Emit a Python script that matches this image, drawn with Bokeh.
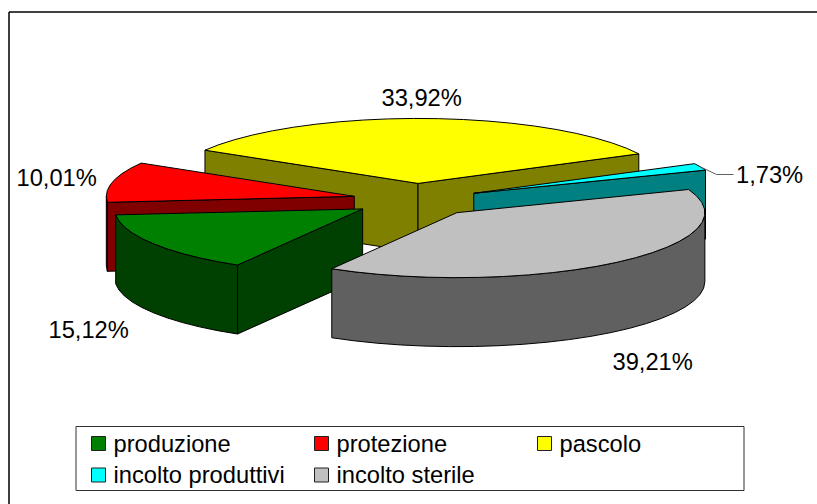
import numpy as np
from bokeh.plotting import figure
from bokeh.embed import file_html
from bokeh.resources import INLINE
from bokeh.core.properties import value

# --- data ---
categories = ["produzione", "protezione", "pascolo", "incolto produttivi", "incolto sterile"]
shares = [15.12, 10.01, 33.92, 1.73, 39.21]
labels = ["15,12%", "10,01%", "33,92%", "1,73%", "39,21%"]

# --- style ---
top_colors = ["#008000", "#ff0000", "#ffff00", "#00ffff", "#c0c0c0"]
side_colors = ["#004000", "#800000", "#808000", "#008080", "#606060"]
first_angle = 210.3
cx, cy = 415.5, 199.5
rx, ry = 248.0, 65.0
depth = 69.0
explode = 0.255
FONT = value("Liberation Sans")
FS = "23.7px"

W, H = 817, 504
p = figure(width=W, height=H, x_range=(0, W), y_range=(H, 0),
           output_backend="svg", toolbar_location=None, min_border=0,
           outline_line_color=None)
p.axis.visible = False
p.grid.visible = False
p.background_fill_color = "white"
p.border_fill_color = "white"

# chart frame (only its top and left edges fall inside the picture)
p.line([8.5, 8.5], [11.5, H], line_color="black", line_width=1.5)
p.line([8.5, W], [11.5, 11.5], line_color="black", line_width=1.5)


def arc(tip, t0, t1, dy=0.0):
    ts = np.radians(np.linspace(t0, t1, max(2, int(abs(t1 - t0) / 6) + 2)))
    return tip[0] + rx * np.sin(ts), tip[1] - ry * np.cos(ts) + dy


frac = np.array(shares) / sum(shares)
ends = first_angle + np.cumsum(frac) * 360
starts = ends - frac * 360
mids = (starts + ends) / 2
tips = [(cx + explode * rx * np.sin(np.radians(m)), cy - explode * ry * np.cos(np.radians(m))) for m in mids]

# painter's order: farthest slice first
for i in sorted(range(len(shares)), key=lambda k: tips[k][1]):
    t0, t1 = starts[i], ends[i]
    tip = tips[i]
    side, top = side_colors[i], top_colors[i]
    # cut faces that look towards the viewer
    for t, visible in ((t0, np.sin(np.radians(t0)) < 0), (t1, np.sin(np.radians(t1)) > 0)):
        if not visible:
            continue
        ex, ey = arc(tip, t, t)
        ex, ey = ex[0], ey[0]
        p.patch([tip[0], ex, ex, tip[0]], [tip[1], ey, ey + depth, tip[1] + depth],
                fill_color=side, line_color="black", line_width=1)
    # outer rim (front half of the ellipse only)
    for base in (0, 360):
        a, b = max(t0, 90 + base), min(t1, 270 + base)
        if b > a:
            x1, y1 = arc(tip, a, b)
            x2, y2 = arc(tip, b, a, depth)
            p.patch(np.r_[x1, x2], np.r_[y1, y2], fill_color=side, line_color="black", line_width=1)
    # top
    xs, ys = arc(tip, t0, t1)
    p.patch(np.r_[tip[0], xs], np.r_[tip[1], ys], fill_color=top, line_color="black", line_width=1)

# leader line of the smallest slice
small = int(np.argmin(shares))
lx, ly = arc(tips[small], mids[small], mids[small])
p.line([lx[0], 716, 733], [ly[0], 174, 174], line_color="#606060", line_width=1)

# data labels
label_x = [48, 16, 381, 735.5, 612]
label_y = [329, 177, 97, 174, 361]
p.text(x=label_x, y=label_y, text=labels, text_font=FONT, text_font_size=FS,
       text_color="black", text_baseline="middle", text_align="left")

# legend
p.patch([75.5, 743.5, 743.5, 75.5], [426, 426, 490, 490], fill_color="white", line_color="#303030", line_width=1)
leg_x = [91, 314, 537, 91, 314]
leg_y = [443, 443, 443, 474.5, 474.5]
p.rect(x=[v + 7 for v in leg_x], y=leg_y, width=14, height=14, fill_color=top_colors,
       line_color="#202020", line_width=1)
p.text(x=[v + 22 for v in leg_x], y=leg_y, text=categories, text_font=FONT, text_font_size=FS,
       text_color="black", text_baseline="middle", text_align="left")

open("out.html", "w").write(file_html(p, INLINE))
